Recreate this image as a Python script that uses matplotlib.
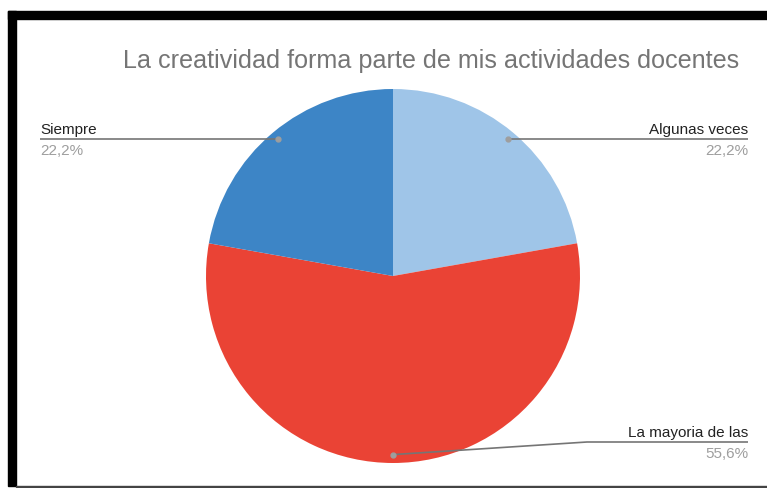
import numpy as np
import matplotlib
matplotlib.use("Agg")
import matplotlib.pyplot as plt
from matplotlib.patches import Rectangle

# Chart data
labels = ["Algunas veces", "La mayoria de las", "Siempre"]
values = [22.2, 55.6, 22.2]
pct_text = ["22,2%", "55,6%", "22,2%"]
colors = ["#9fc5e8", "#ea4335", "#3d85c6"]
title = "La creatividad forma parte de mis actividades docentes"

W, H = 767, 489
CX, CY, R = 393, 277, 187

plt.rcParams["font.family"] = ["Liberation Sans", "DejaVu Sans"]

fig = plt.figure(figsize=(W / 100, H / 100), dpi=100)
fig.patch.set_facecolor("white")

ax = fig.add_axes([(CX - R) / W, (H - CY - R) / H, 2 * R / W, 2 * R / H])
ax.pie(values, colors=colors, startangle=90, counterclock=False,
       wedgeprops=dict(linewidth=0))
ax.set_xlim(-1, 1)
ax.set_ylim(-1, 1)
ax.set_aspect("equal")
ax.axis("off")


def px(x, y):
    # image pixel -> pie data coords
    return (x - CX) / R, (CY - y) / R


# label positions (image pixels): text x, line y, alignment, elbow
layout = {
    "Algunas veces": dict(tx=748, ly=140, ha="right"),
    "La mayoria de las": dict(tx=748, ly=443, ha="right", elbow=587),
    "Siempre": dict(tx=40, ly=140, ha="left"),
}

total = sum(values)
start = 90.0
for lab, v, pct in zip(labels, values, pct_text):
    mid = start - v / total * 360 / 2
    start -= v / total * 360
    dx, dy = 0.955 * np.cos(np.radians(mid)), 0.955 * np.sin(np.radians(mid))
    lo = layout[lab]
    lx, ly = px(lo["tx"], lo["ly"])
    if "elbow" in lo:
        ex, _ = px(lo["elbow"], lo["ly"])
        xs, ys = [dx, ex, lx], [dy, ly, ly]
    else:
        xs, ys = [dx, lx], [ly, ly]
    ax.plot(xs, ys, color="#757575", lw=1.2, clip_on=False, solid_capstyle="butt")
    ax.plot([dx], [dy], "o", color="#9e9e9e", ms=3.5, clip_on=False)
    _, ty1 = px(0, lo["ly"] - 3)
    _, ty2 = px(0, lo["ly"] + 4)
    ax.text(lx, ty1, lab, ha=lo["ha"], va="bottom", fontsize=11, color="#222222")
    ax.text(lx, ty2, pct, ha=lo["ha"], va="top", fontsize=11, color="#9e9e9e")

fig.text(123 / W, 1 - 61 / H, title, ha="left", va="center", fontsize=18.1,
         color="#757575")

# frame around the screenshot
fig.patches.append(Rectangle((8 / W, 1 - 20 / H), (W - 8) / W, 8 / H,
                             transform=fig.transFigure, color="black", zorder=5))
fig.patches.append(Rectangle((8 / W, 1 - 487 / H), 8 / W, 475 / H,
                             transform=fig.transFigure, color="black", zorder=5))
fig.patches.append(Rectangle((16 / W, 1 - 488 / H), (W - 16) / W, 1.3 / H,
                             transform=fig.transFigure, color="#444444", zorder=5))

fig.savefig("out.png", dpi=100)
